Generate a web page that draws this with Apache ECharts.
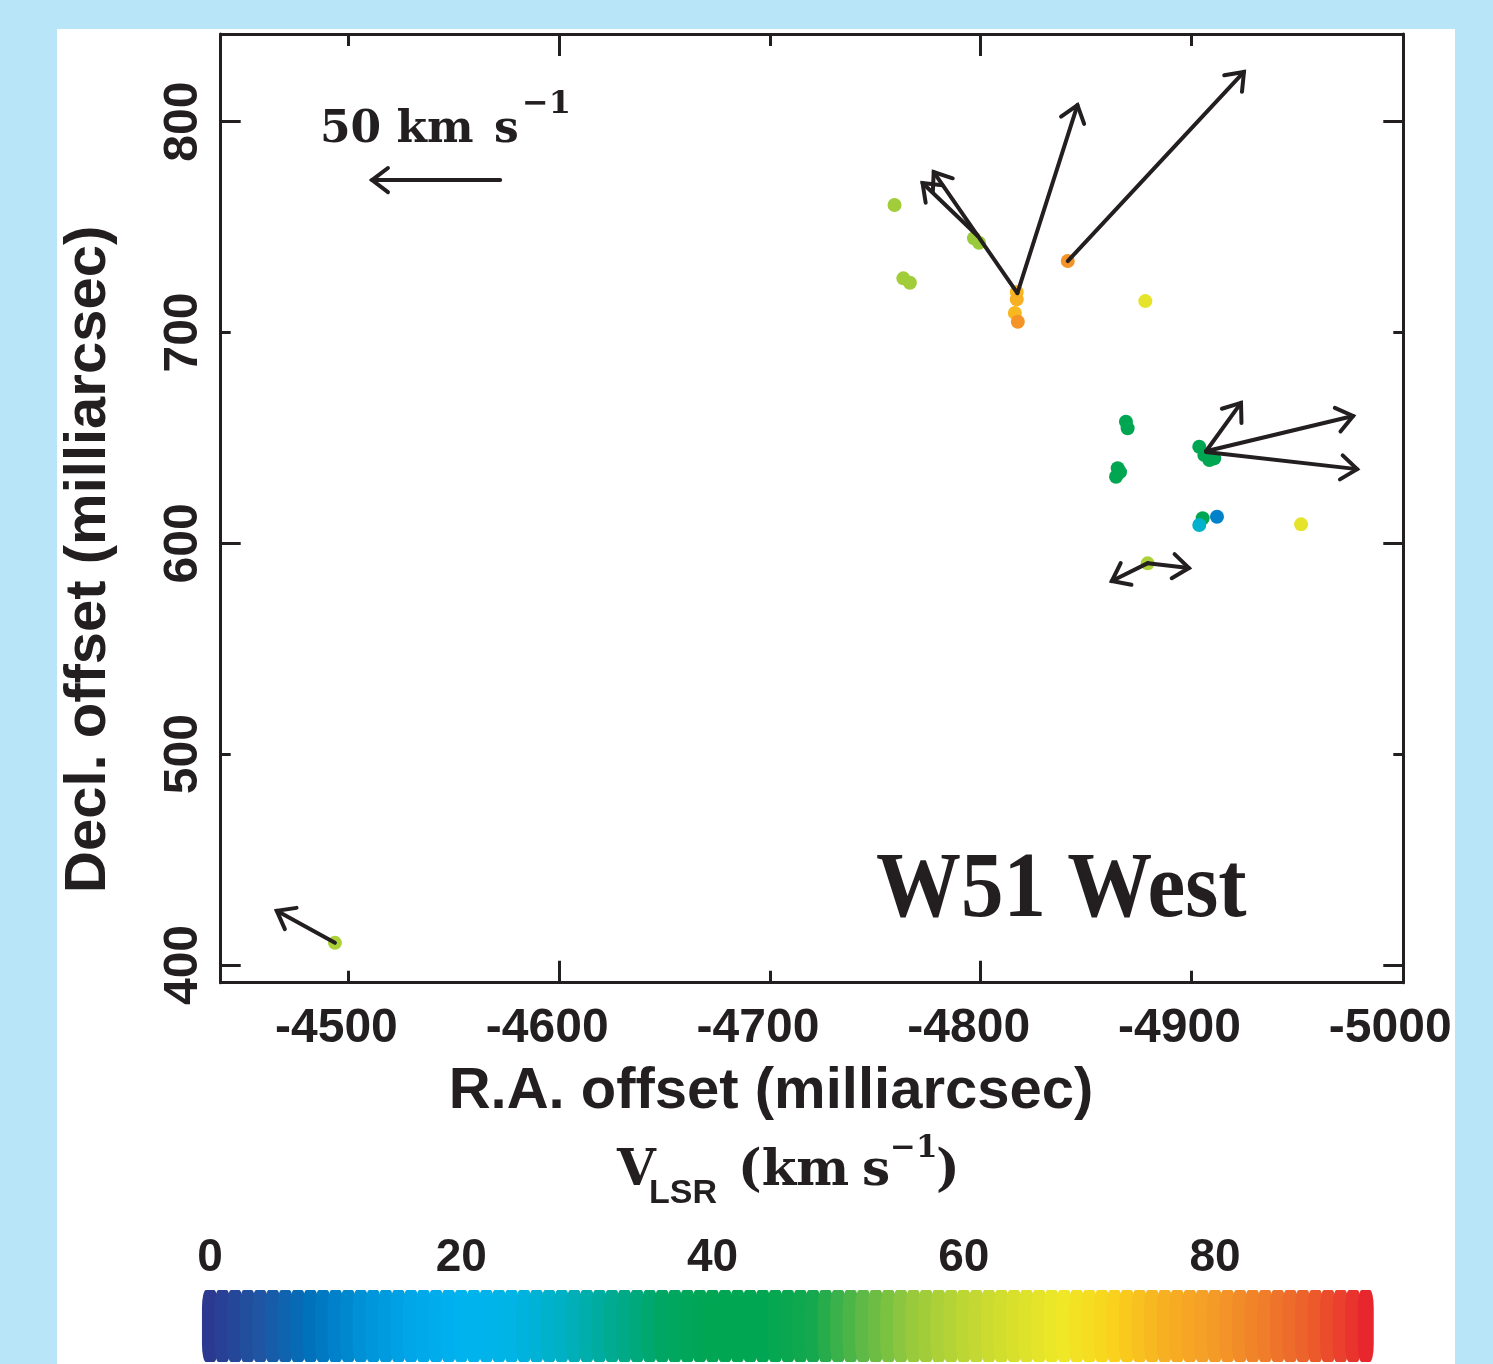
<!DOCTYPE html>
<html><head><meta charset="utf-8">
<script src="https://cdn.jsdelivr.net/npm/echarts@6/dist/echarts.min.js"></script>
<style>
html,body{margin:0;padding:0;background:#b9e5f9;}
#panel{position:absolute;left:57px;top:29px;width:1398px;height:1335px;background:#ffffff;}
#c{position:absolute;left:0;top:0;width:1493px;height:1364px;}
</style>
</head><body><div id="panel"></div><div id="c"></div>
<script>
// ---- maser spots: R.A. offset (mas), Decl. offset (mas), V_LSR (km/s)
const spotRA   = [-4759.1,-4796.8,-4799.2,-4763.3,-4766.4,-4817.1,-4817.1,-4816.2,-4817.6,-4841.3,-4878.1,
                  -4868.9,-4869.7,-4865.0,-4864.2,-4866.1,-4903.7,-4906.1,-4908.5,-4910.8,-4905.3,-4903.7,-4912.1,
                  -4952.0,-4879.2,-4493.6];
const spotDec  = [760.5,744.7,742.6,725.7,723.6,719.2,715.7,709.3,705.1,733.9,714.9,
                  657.7,654.6,635.6,631.6,633.8,645.8,641.9,639.5,640.3,611.9,608.7,612.6,
                  609.0,590.5,410.5];
const spotVlsr = [57,56,56,57,57,75,76,75,81,81,66,
                  42,42,42,42,42,43,43,43,43,40,27,10,
                  66,58,58];

// ---- proper-motion arrows: start (RA, Dec) -> tip (RA, Dec), mas
const arrowRA0  = [-4817.4,-4817.4,-4798.6,-4841.3,-4906.9,-4906.9,-4906.9,-4879.3,-4879.3,-4493.6,-4572.0];
const arrowDec0 = [718.7,718.7,745.8,733.9,643.7,643.7,643.3,590.6,590.6,410.5,772.3];
const arrowRA1  = [-4845.9,-4777.7,-4772.4,-4924.9,-4923.5,-4976.7,-4978.6,-4862.2,-4898.8,-4466.0,-4511.2];
const arrowDec1 = [807.9,776.1,770.9,823.6,666.6,660.4,635.2,582.1,588.3,425.7,772.3];

// ---- axes ticks / labels
const xLabels = [-5000,-4900,-4800,-4700,-4600,-4500];
const xMinorTicks = [-4900,-4700,-4500];
const xMajorTicks = [-4800,-4600];
const yLabels = [400,500,600,700,800];
const yMinorTicks = [500,700];
const yMajorTicks = [400,600,800];

// ---- colour bar
const cbarValues = [0,1,2,3,4,5,6,7,8,9,10,11,12,13,14,15,16,17,18,19,20,21,22,23,24,25,26,27,28,29,30,
  31,32,33,34,35,36,37,38,39,40,41,42,43,44,45,46,47,48,49,50,51,52,53,54,55,56,57,58,59,60,
  61,62,63,64,65,66,67,68,69,70,71,72,73,74,75,76,77,78,79,80,81,82,83,84,85,86,87,88,89,90,91,92];
const cbarLabels = [0,20,40,60,80];
const cmapColors = ['#2b3990','#1f55a3','#0071bb','#0090d6','#00a6e8','#00b2ee','#00b4e6','#00b0c4',
  '#00ab92','#00a764','#00a651','#00a651','#15a84e','#5eb946','#99ca3c','#bcd634','#d9e02c','#f0e827',
  '#fad11c','#f7b021','#f49a27','#f07d2a','#ec5a2c','#e8262d'];

const INK = '#231f20';
const SANS = '"Liberation Sans", Arial, Helvetica, sans-serif';
const SERIF = '"DejaVu Serif", serif';
const TIMES = '"Liberation Serif", "Times New Roman", serif';

const spots = spotRA.map((r, i) => [r, spotDec[i], spotVlsr[i]]);
const arrows = arrowRA0.map((r, i) => [r, arrowDec0[i], arrowRA1[i], arrowDec1[i]]);
const cbar = cbarValues.map(v => [v, 0.5, v]);

const fmt = v => String(v);
const X_MIN = -5000.5, X_MAX = -4439.4, Y_MIN = 391.6, Y_MAX = 841.6;

function xAx(pos, ticks, len, opts) {
  return Object.assign({
    type: 'value', gridIndex: 0, position: pos, inverse: true, min: X_MIN, max: X_MAX,
    axisLine: {show: false}, splitLine: {show: false},
    axisTick: {show: true, inside: true, length: len, customValues: ticks, lineStyle: {color: INK, width: 3}},
    axisLabel: {show: false}
  }, opts || {});
}
function yAx(pos, ticks, len, opts) {
  return Object.assign({
    type: 'value', gridIndex: 0, position: pos, min: Y_MIN, max: Y_MAX,
    axisLine: {show: false}, splitLine: {show: false},
    axisTick: {show: true, inside: true, length: len, customValues: ticks, lineStyle: {color: INK, width: 3}},
    axisLabel: {show: false}
  }, opts || {});
}

const chart = echarts.init(document.getElementById('c'), null, {width: 1493, height: 1364});
chart.setOption({
  backgroundColor: 'transparent',
  animation: false,
  grid: [
    {left: 220.7, right: 89.7, top: 34, bottom: 381.3, outerBoundsMode: 'none', containLabel: false},
    {left: 197.4, right: 114.7, top: 1290, height: 72, outerBoundsMode: 'none', containLabel: false}
  ],
  xAxis: [
    xAx('bottom', xMinorTicks, 12, {
      axisLine: {show: true, lineStyle: {color: INK, width: 3}},
      axisLabel: {show: true, customValues: xLabels, formatter: fmt, color: INK, fontFamily: SANS,
                  fontWeight: 'bold', fontSize: 48, margin: 22, padding: [0, 24, 0, 0]},
      name: 'R.A. offset (milliarcsec)', nameLocation: 'middle', nameGap: 80,
      nameTextStyle: {color: INK, fontFamily: SANS, fontWeight: 'bold', fontSize: 58, padding: [0, 82, 0, 0]}
    }),
    xAx('bottom', xMajorTicks, 22),
    xAx('top', xMinorTicks, 12, {axisLine: {show: true, lineStyle: {color: INK, width: 3}}}),
    xAx('top', xMajorTicks, 22),
    {type: 'value', gridIndex: 1, position: 'top', min: -1, max: 93,
     axisLine: {show: false}, axisTick: {show: false}, splitLine: {show: false},
     axisLabel: {customValues: cbarLabels, formatter: fmt, color: INK, fontFamily: SANS,
                 fontWeight: 'bold', fontSize: 46, margin: 9}}
  ],
  yAxis: [
    yAx('left', yMinorTicks, 10, {
      axisLine: {show: true, lineStyle: {color: INK, width: 3}},
      axisLabel: {show: true, customValues: yLabels, formatter: fmt, rotate: 90, color: INK,
                  fontFamily: SANS, fontWeight: 'bold', fontSize: 48, margin: 13},
      name: 'Decl. offset (milliarcsec)', nameLocation: 'middle', nameGap: 103,
      nameTextStyle: {color: INK, fontFamily: SANS, fontWeight: 'bold', fontSize: 58, padding: [0, 102, 0, 0]}
    }),
    yAx('left', yMajorTicks, 20),
    yAx('right', yMinorTicks, 10, {axisLine: {show: true, lineStyle: {color: INK, width: 3}}}),
    yAx('right', yMajorTicks, 20),
    {type: 'value', gridIndex: 1, min: 0, max: 1, show: false}
  ],
  visualMap: {
    type: 'continuous', show: false, dimension: 2, seriesIndex: [0, 1],
    min: 0, max: 92, inRange: {color: cmapColors}
  },
  series: [
    {type: 'scatter', name: 'maser spots', xAxisIndex: 0, yAxisIndex: 0, data: spots,
     symbol: 'circle', symbolSize: 14, z: 3, itemStyle: {opacity: 1}},
    {type: 'scatter', name: 'V_LSR colour bar', xAxisIndex: 4, yAxisIndex: 4, data: cbar,
     symbol: 'roundRect', symbolSize: [16, 72], z: 2, itemStyle: {opacity: 1}},
    {type: 'custom', name: 'proper motions', xAxisIndex: 0, yAxisIndex: 0, data: arrows,
     encode: {x: [0, 2], y: [1, 3]}, z: 5, clip: false,
     renderItem: function (params, api) {
       const p0 = api.coord([api.value(0), api.value(1)]);
       const p1 = api.coord([api.value(2), api.value(3)]);
       const ang = Math.atan2(p1[1] - p0[1], p1[0] - p0[0]);
       const L = 20, a = 0.65;
       const h1 = [p1[0] - L * Math.cos(ang - a), p1[1] - L * Math.sin(ang - a)];
       const h2 = [p1[0] - L * Math.cos(ang + a), p1[1] - L * Math.sin(ang + a)];
       return {type: 'group', children: [
         {type: 'line', shape: {x1: p0[0], y1: p0[1], x2: p1[0], y2: p1[1]},
          style: {stroke: INK, lineWidth: 4, lineCap: 'round'}},
         {type: 'polyline', shape: {points: [h1, p1, h2]},
          style: {stroke: INK, lineWidth: 4, fill: null, lineJoin: 'miter', lineCap: 'round'}}
       ]};
     }}
  ],
  graphic: [
    {type: 'text', x: 320, y: 131, style: {text: '50 km', font: 'bold 44px ' + SERIF, fill: INK, align: 'left', verticalAlign: 'middle'}},
    {type: 'text', x: 494, y: 131, style: {text: 's', font: 'bold 44px ' + SERIF, fill: INK, align: 'left', verticalAlign: 'middle'}},
    {type: 'text', x: 522, y: 105, style: {text: '\u22121', font: 'bold 32px ' + SERIF, fill: INK, align: 'left', verticalAlign: 'middle'}},
    {type: 'text', x: 876, y: 892, scaleY: 1.1, originX: 0, originY: 0,
     style: {text: 'W51 West', font: 'bold 85px ' + TIMES, fill: INK, align: 'left', verticalAlign: 'middle'}},
    {type: 'text', x: 617, y: 1172, style: {text: 'V', font: 'bold 50px ' + SERIF, fill: INK, align: 'left', verticalAlign: 'middle'}},
    {type: 'text', x: 649, y: 1194, style: {text: 'LSR', font: 'bold 34px ' + SANS, fill: INK, align: 'left', verticalAlign: 'middle'}},
    {type: 'text', x: 738, y: 1172, style: {text: '(km', font: 'bold 50px ' + SERIF, fill: INK, align: 'left', verticalAlign: 'middle'}},
    {type: 'text', x: 862, y: 1172, style: {text: 's', font: 'bold 50px ' + SERIF, fill: INK, align: 'left', verticalAlign: 'middle'}},
    {type: 'text', x: 890, y: 1149, style: {text: '\u22121', font: 'bold 31px ' + SERIF, fill: INK, align: 'left', verticalAlign: 'middle'}},
    {type: 'text', x: 936, y: 1172, style: {text: ')', font: 'bold 50px ' + SERIF, fill: INK, align: 'left', verticalAlign: 'middle'}}
  ]
});
</script>
</body></html>
